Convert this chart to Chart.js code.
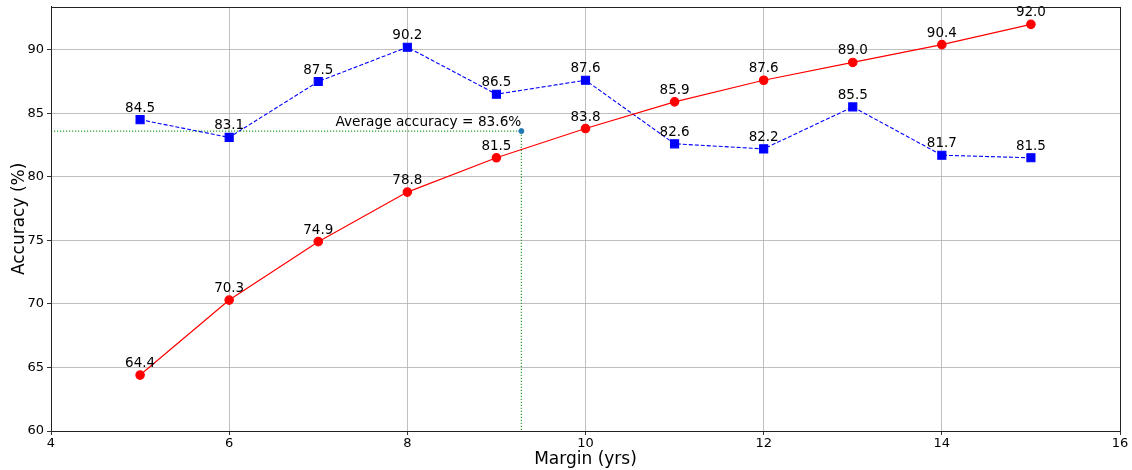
<!DOCTYPE html>
<html>
<head>
<meta charset="utf-8">
<script src="https://cdn.jsdelivr.net/npm/chart.js@4"></script>
<style>
  html, body { margin: 0; padding: 0; background: #fff; }
  #wrap { width: 1132px; height: 470px; }
</style>
</head>
<body>
<div id="wrap"><canvas id="chart" width="1132" height="470"></canvas></div>
<script>
// values
const margins = [5, 6, 7, 8, 9, 10, 11, 12, 13, 14, 15];
const redAcc = [64.4, 70.3, 74.9, 78.8, 81.5, 83.8, 85.9, 87.6, 89.0, 90.4, 92.0];
const blueAcc = [84.5, 83.1, 87.5, 90.2, 86.5, 87.6, 82.6, 82.2, 85.5, 81.7, 81.5];
const avgX = 9.28;
const avgY = 83.6;
const avgLabel = 'Average accuracy = 83.6%';
const xTicks = [4, 6, 8, 10, 12, 14, 16];
const yTicks = [60, 65, 70, 75, 80, 85, 90];

const FONT = "'DejaVu Sans', sans-serif";
const toPts = (xs, ys) => xs.map((x, i) => ({ x: x, y: ys[i] }));

// value labels above the markers + the average annotation
const labelPlugin = {
    id: 'labels',
    afterDatasetsDraw(chart) {
        const ctx = chart.ctx;
        const xs = chart.scales.x, ys = chart.scales.y;
        ctx.save();
        ctx.fillStyle = '#000';
        ctx.font = '13.5px ' + FONT;
        ctx.textAlign = 'center';
        ctx.textBaseline = 'alphabetic';
        [redAcc, blueAcc].forEach(series => {
            series.forEach((v, i) => {
                ctx.fillText(v.toFixed(1), xs.getPixelForValue(margins[i]), ys.getPixelForValue(v) - 8);
            });
        });
        ctx.font = '13.7px ' + FONT;
        ctx.textAlign = 'right';
        ctx.fillText(avgLabel, xs.getPixelForValue(avgX), ys.getPixelForValue(avgY) - 5);
        ctx.restore();
    }
};

// box around the plot area like matplotlib spines
const framePlugin = {
    id: 'frame',
    afterDraw(chart) {
        const a = chart.chartArea, ctx = chart.ctx;
        ctx.save();
        ctx.strokeStyle = '#222';
        ctx.lineWidth = 1;
        ctx.strokeRect(Math.round(a.left) + 0.5, Math.round(a.top) + 0.5,
            Math.round(a.right - a.left), Math.round(a.bottom - a.top));
        ctx.restore();
    }
};

new Chart(document.getElementById('chart'), {
    type: 'scatter',
    data: {
        datasets: [
            {
                data: [{ x: 4, y: avgY }, { x: avgX, y: avgY }, { x: avgX, y: 60 }],
                showLine: true,
                borderColor: '#2ca02c',
                borderWidth: 1.2,
                borderDash: [1.2, 1.8],
                pointRadius: 0,
                order: 3
            },
            {
                data: [{ x: avgX, y: avgY }],
                backgroundColor: '#1f77b4',
                borderColor: '#1f77b4',
                pointRadius: 2.5,
                order: 0
            },
            {
                data: toPts(margins, blueAcc),
                showLine: true,
                borderColor: '#0000ff',
                backgroundColor: '#0000ff',
                borderWidth: 1.1,
                borderDash: [4, 2],
                pointStyle: 'rect',
                pointRadius: 5.7,
                order: 2
            },
            {
                data: toPts(margins, redAcc),
                showLine: true,
                borderColor: '#ff0000',
                backgroundColor: '#ff0000',
                borderWidth: 1.2,
                pointStyle: 'circle',
                pointRadius: 4.2,
                order: 1
            }
        ]
    },
    options: {
        responsive: false,
        animation: false,
        layout: { padding: { left: 0, right: 12, top: 4, bottom: 0 } },
        plugins: { legend: { display: false }, tooltip: { enabled: false } },
        scales: {
            x: {
                type: 'linear',
                min: 4, max: 16,
                afterBuildTicks: s => { s.ticks = xTicks.map(v => ({ value: v })); },
                afterFit: s => { s.height = 39; },
                ticks: { color: '#000', font: { family: FONT, size: 13 }, padding: 1, maxRotation: 0 },
                grid: { color: '#b0b0b0', lineWidth: 0.8, tickLength: 4, tickColor: '#000' },
                border: { color: '#222', width: 1 },
                title: { display: true, text: 'Margin (yrs)', color: '#000', font: { family: FONT, size: 17 }, padding: { top: 0, bottom: 0 } }
            },
            y: {
                type: 'linear',
                min: 60, max: 93.38,
                afterBuildTicks: s => { s.ticks = yTicks.map(v => ({ value: v })); },
                afterFit: s => { s.width = 51; s.paddingTop = 0; },
                ticks: { color: '#000', font: { family: FONT, size: 13 }, padding: 3 },
                grid: { color: '#b0b0b0', lineWidth: 0.8, tickLength: 4, tickColor: '#000' },
                border: { color: '#222', width: 1 },
                title: { display: true, text: 'Accuracy (%)', color: '#000', font: { family: FONT, size: 17 }, padding: { top: 9, bottom: 0 } }
            }
        }
    },
    plugins: [labelPlugin, framePlugin]
});
</script>
</body>
</html>
